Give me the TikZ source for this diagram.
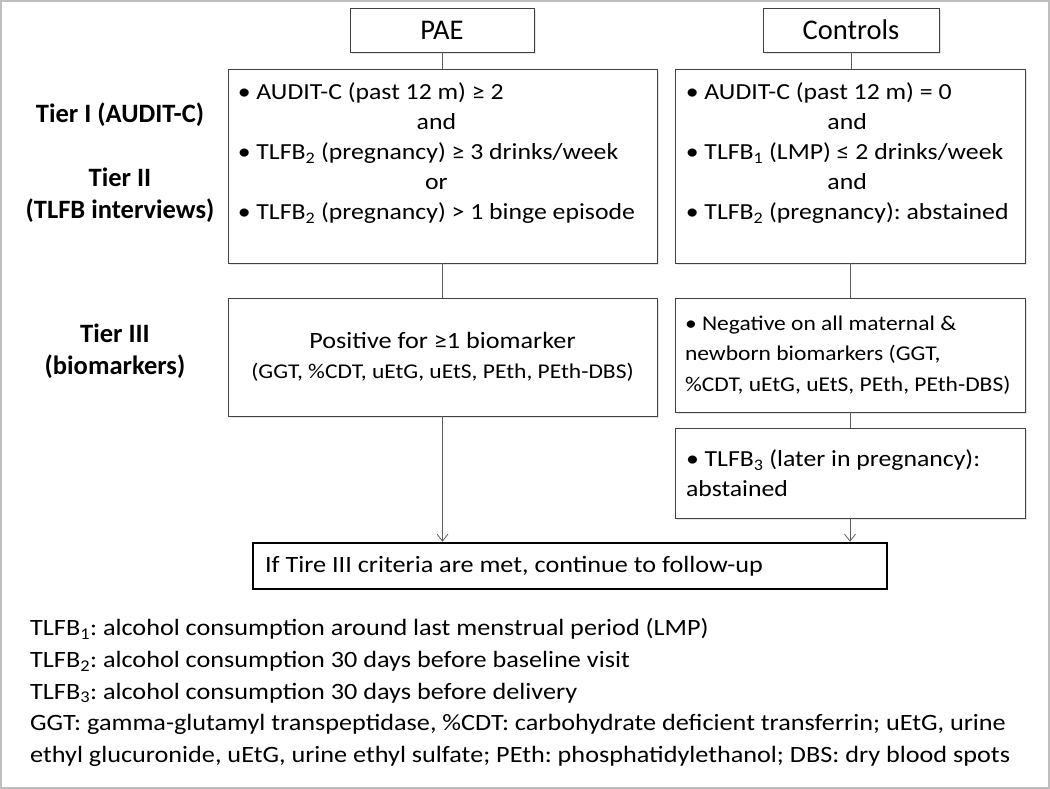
\documentclass[tikz,border=0pt]{standalone}
\usepackage{fontspec}
\setmainfont{Carlito}[FakeStretch=1.12]
\newfontfamily\plainfont{Carlito}
\usepackage{tikz}
\usetikzlibrary{positioning,calc,arrows.meta,shadows}
\definecolor{framegray}{RGB}{190,190,190}
\definecolor{boxline}{RGB}{65,65,65}
\newcommand*{\tlfb}[1]{TLFB\textsubscript{#1}}
\frenchspacing

\begin{document}
\begin{tikzpicture}
[
    x = 1pt, y = -1pt,
    every node/.style={font=\fontsize{23}{30}\selectfont},
    group/.style={draw=boxline, thick, fill=white, inner sep=0pt, minimum height=44pt,
        font=\plainfont\fontsize{28.5}{34}\selectfont,
        drop shadow={shadow xshift=2pt, shadow yshift=-2pt, opacity=.2}},
    tier/.style={draw=boxline, thick, fill=white, inner sep=0pt,
        drop shadow={shadow xshift=2pt, shadow yshift=-2pt, opacity=.2}},
    crit/.style={anchor=north west, inner sep=0pt},
    tierlabel/.style={align=center, font=\plainfont\bfseries\fontsize{26.5}{31.5}\selectfont},
    final/.style={draw=black, line width=2.5pt, fill=white, minimum width=634pt, minimum height=46pt,
        text width=610pt, inner xsep=12pt, align=flush left, font=\fontsize{23.4}{30}\selectfont},
    link/.style={draw=boxline!85, thick},
    arrow/.style={link, -{Straight Barb[length=7pt, width=11pt]}},
]
\useasboundingbox (0,0) rectangle (1050,789);
\draw[framegray, line width=2pt] (1,1) rectangle (1049,788);

% group headers
\node[group, minimum width=184pt] (pae) at (442,30) {PAE};
\node[group, minimum width=176pt] (ctrl) at (851,30) {Controls};

% tier I and II
\node[tier, minimum width=429pt, minimum height=194pt] (paeI) at (442.5,166) {};
\node[tier, minimum width=350pt, minimum height=194pt] (ctrlI) at (850,166) {};
\node[crit] (paeIcrit) at ($(paeI.north west)+(10,10)$) {%
    \begin{tabular}{@{}l@{}}
    • AUDIT-C (past 12 m) ≥ 2\\
    \multicolumn{1}{@{}c@{}}{and}\\
    • \tlfb{2} (pregnancy) ≥ 3 drinks/week\\
    \multicolumn{1}{@{}c@{}}{or}\\
    • \tlfb{2} (pregnancy) > 1 binge episode
    \end{tabular}};
\node[crit] (ctrlIcrit) at ($(ctrlI.north west)+(11,10)$) {%
    \begin{tabular}{@{}l@{}}
    • AUDIT-C (past 12 m) = 0\\
    \multicolumn{1}{@{}c@{}}{and}\\
    • \tlfb{1} (LMP) ≤ 2 drinks/week\\
    \multicolumn{1}{@{}c@{}}{and}\\
    • \tlfb{2} (pregnancy): abstained
    \end{tabular}};

% tier III
\node[tier, minimum width=429pt, minimum height=118pt, align=center,
    font=\fontsize{23.4}{30}\selectfont] (paeIII) at (442.5,357)
    {Positive for ≥1 biomarker\\{\fontsize{21}{30}\selectfont (GGT, \%CDT, uEtG, uEtS, PEth, PEth-DBS)}};
\node[tier, minimum width=350pt, minimum height=114pt, text width=330pt, align=flush left,
    font=\fontsize{21}{30.5}\selectfont] (ctrlIII) at (850,355)
    {• Negative on all maternal \&\\ newborn biomarkers (GGT,\\ \%CDT, uEtG, uEtS, PEth, PEth-DBS)};
\node[tier, minimum width=350pt, minimum height=90pt, text width=328pt, align=flush left] (tlfbIII) at (850,473)
    {• \tlfb{3} (later in pregnancy):\\ abstained};

% follow-up
\node[final] (follow) at (570,566) {If Tire III criteria are met, continue to follow-up};

% tier labels
\node[tierlabel] (tierI) at (120,115) {Tier I (AUDIT-C)};
\node[tierlabel] (tierII) at (120,195) {Tier II\\(TLFB interviews)};
\node[tierlabel] (tierIII) at (115,351) {Tier III\\(biomarkers)};

% connectors
\draw[link] (pae.south) -- (pae.south |- paeI.north);
\draw[link] (ctrl.south) -- (ctrl.south |- ctrlI.north);
\draw[link] (paeI.south) -- (paeI.south |- paeIII.north);
\draw[link] (ctrlI.south) -- (ctrlI.south |- ctrlIII.north);
\draw[link] (ctrlIII.south) -- (ctrlIII.south |- tlfbIII.north);
\draw[arrow] (paeIII.south) -- (paeIII.south |- follow.north);
\draw[arrow] (tlfbIII.south) -- (tlfbIII.south |- follow.north);

% notes
\node[anchor=west, inner sep=0pt, align=left, font=\fontsize{23.4}{31.7}\selectfont] (notes) at (30,692.5)
    {\tlfb{1}: alcohol consumption around last menstrual period (LMP)\\
     \tlfb{2}: alcohol consumption 30 days before baseline visit\\
     \tlfb{3}: alcohol consumption 30 days before delivery\\
     GGT: gamma-glutamyl transpeptidase, \%CDT: carbohydrate deficient transferrin; uEtG, urine\\
     ethyl glucuronide, uEtG, urine ethyl sulfate; PEth: phosphatidylethanol; DBS: dry blood spots};
\end{tikzpicture}
\end{document}
